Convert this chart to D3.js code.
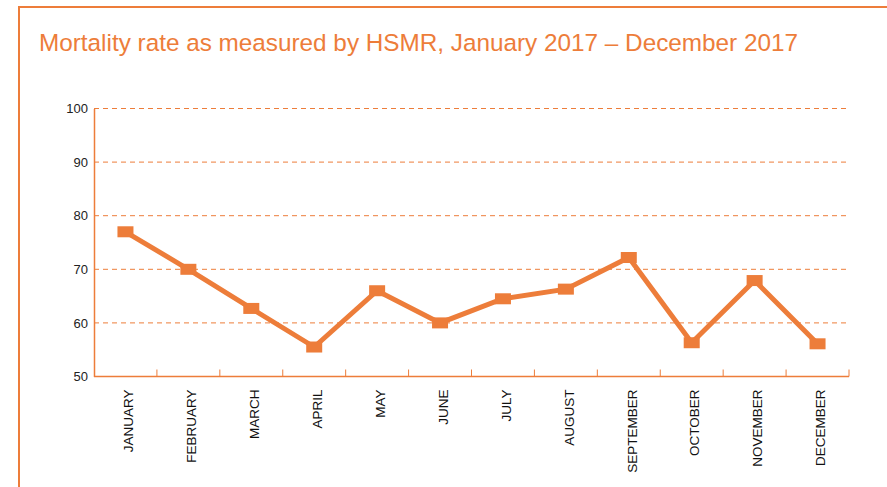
<!DOCTYPE html>
<html><head><meta charset="utf-8">
<script src="https://cdn.jsdelivr.net/npm/d3@7"></script>
<style>body{margin:0;background:#fff;}svg{display:block;}</style>
</head><body>
<script>
const months = ["JANUARY","FEBRUARY","MARCH","APRIL","MAY","JUNE","JULY","AUGUST","SEPTEMBER","OCTOBER","NOVEMBER","DECEMBER"];
const hsmr = [77.0, 70.0, 62.7, 55.5, 66.0, 60.0, 64.5, 66.3, 72.2, 56.3, 67.9, 56.1];
const yTicks = [50, 60, 70, 80, 90, 100];
const titleText = "Mortality rate as measured by HSMR, January 2017 \u2013 December 2017";

(function(){
const W = 887, H = 487;
const orange = "#ed7d3a";
const svg = d3.select("body").append("svg").attr("width", W).attr("height", H);

// frame
svg.append("path").attr("d", `M19,${H} V7 H${W}`).attr("fill","none").attr("stroke", orange).attr("stroke-width", 2);

svg.append("text").attr("x", 39).attr("y", 51).text(titleText)
  .attr("font-family","Liberation Sans, Arial, sans-serif").attr("font-size", 24.3).attr("fill", orange);

const mLeft = 94, mRight = 849, mTop = 108.5, mBottom = 376.5;
const x = d3.scaleBand().domain(months).range([mLeft, mRight]);
const y = d3.scaleLinear().domain([50, 100]).range([mBottom, mTop]);

// gridlines
svg.append("g").selectAll("line").data(yTicks.filter(d => d > 50)).join("line")
  .attr("x1", mLeft).attr("x2", mRight - 2).attr("y1", d => y(d)).attr("y2", d => y(d))
  .attr("stroke", orange).attr("stroke-width", 1).attr("stroke-dasharray", "5,4");

// y axis
const yAxis = d3.axisLeft(y).tickValues(yTicks).tickSize(0).tickPadding(6);
const gy = svg.append("g").attr("transform", `translate(${mLeft},0)`).call(yAxis);
gy.select(".domain").attr("stroke", orange).attr("stroke-width", 1.5);
gy.selectAll("text").attr("font-family","Liberation Sans, Arial, sans-serif").attr("font-size", 13).attr("fill", "#222");

// x axis
const gx = svg.append("g").attr("transform", `translate(0,${mBottom})`);
gx.append("line").attr("x1", mLeft).attr("x2", mRight).attr("stroke", orange).attr("stroke-width", 1.5);
const bounds = months.map(m => x(m) + x.bandwidth());
gx.selectAll("line.tick").data(bounds).join("line").attr("class","tick")
  .attr("x1", d => d).attr("x2", d => d).attr("y1", 0).attr("y2", -7)
  .attr("stroke", orange).attr("stroke-width", 1);
gx.selectAll("text").data(months).join("text")
  .attr("transform", d => `translate(${x(d) + x.bandwidth()/2 + 3},13) rotate(-90)`)
  .attr("text-anchor","end").attr("dy","0.35em")
  .attr("font-family","Liberation Sans, Arial, sans-serif").attr("font-size", 13.5).attr("fill", "#111")
  .text(d => d);

// line
const line = d3.line().x((d,i) => x(months[i]) + x.bandwidth()/2).y(d => y(d));
svg.append("path").datum(hsmr).attr("d", line).attr("fill","none").attr("stroke", orange)
  .attr("stroke-width", 5).attr("stroke-linejoin","miter");

svg.append("g").selectAll("rect").data(hsmr).join("rect")
  .attr("x", (d,i) => x(months[i]) + x.bandwidth()/2 - 8).attr("y", d => y(d) - 5.5)
  .attr("width", 16).attr("height", 11).attr("fill", orange);
})();
</script>
</body></html>
